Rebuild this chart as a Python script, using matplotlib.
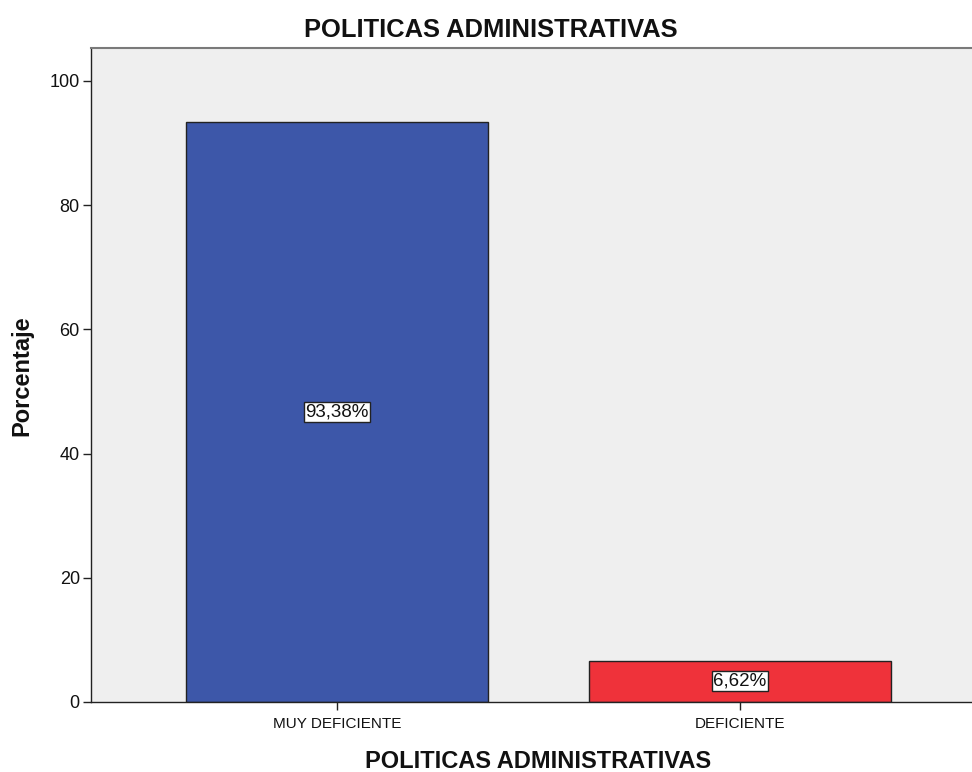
import matplotlib
matplotlib.use("Agg")
import matplotlib.pyplot as plt

categories = ["MUY DEFICIENTE", "DEFICIENTE"]
percentages = [93.38, 6.62]
bar_colors = ["#3D57A9", "#EF323A"]
y_ticks = [0, 20, 40, 60, 80, 100]

plt.rcParams["font.family"] = ["Liberation Sans", "DejaVu Sans"]

fig = plt.figure(figsize=(9.72, 7.72), dpi=100)
ax = fig.add_axes([0.0936, 0.0907, 0.9064, 0.8472])
ax.set_facecolor("#EFEFEF")

x = list(range(len(categories)))
bars = ax.bar(x, percentages, width=0.75, color=bar_colors,
              edgecolor="#222222", linewidth=1.0, zorder=2)

for xi, v in zip(x, percentages):
    label = f"{v:.2f}".replace(".", ",") + "%"
    ax.text(xi, v / 2, label, ha="center", va="center", fontsize=13.5,
            color="#111111", zorder=3,
            bbox=dict(boxstyle="square,pad=0.08", facecolor="white",
                      edgecolor="#222222", linewidth=1.0))

ax.set_xlim(-0.61, 1.576)
ax.set_ylim(0, 105.3)
ax.set_xticks(x)
ax.set_xticklabels(categories, fontsize=11)
ax.set_yticks(y_ticks)
ax.set_yticklabels([str(t) for t in y_ticks], fontsize=13)
ax.tick_params(axis="both", direction="out", length=6, width=1.0,
               color="#222222", labelcolor="#111111")
ax.tick_params(axis="x", pad=5)
ax.tick_params(axis="y", pad=2)

ax.spines["right"].set_visible(False)
ax.spines["top"].set_color("#7A7A7A")
ax.spines["top"].set_linewidth(1.5)
ax.spines["left"].set_color("#222222")
ax.spines["bottom"].set_color("#222222")
ax.spines["left"].set_linewidth(1.0)
ax.spines["bottom"].set_linewidth(1.0)

fig.text(0.505, 0.961, "POLITICAS ADMINISTRATIVAS", ha="center", va="center",
         fontsize=18.4, fontweight="bold", color="#111111")
fig.text(0.554, 0.013, "POLITICAS ADMINISTRATIVAS", ha="center", va="center",
         fontsize=17, fontweight="bold", color="#111111")
fig.text(0.023, 0.513, "Porcentaje", ha="center", va="center", rotation=90,
         fontsize=17, fontweight="bold", color="#111111")

fig.savefig("out.png", dpi=100)
